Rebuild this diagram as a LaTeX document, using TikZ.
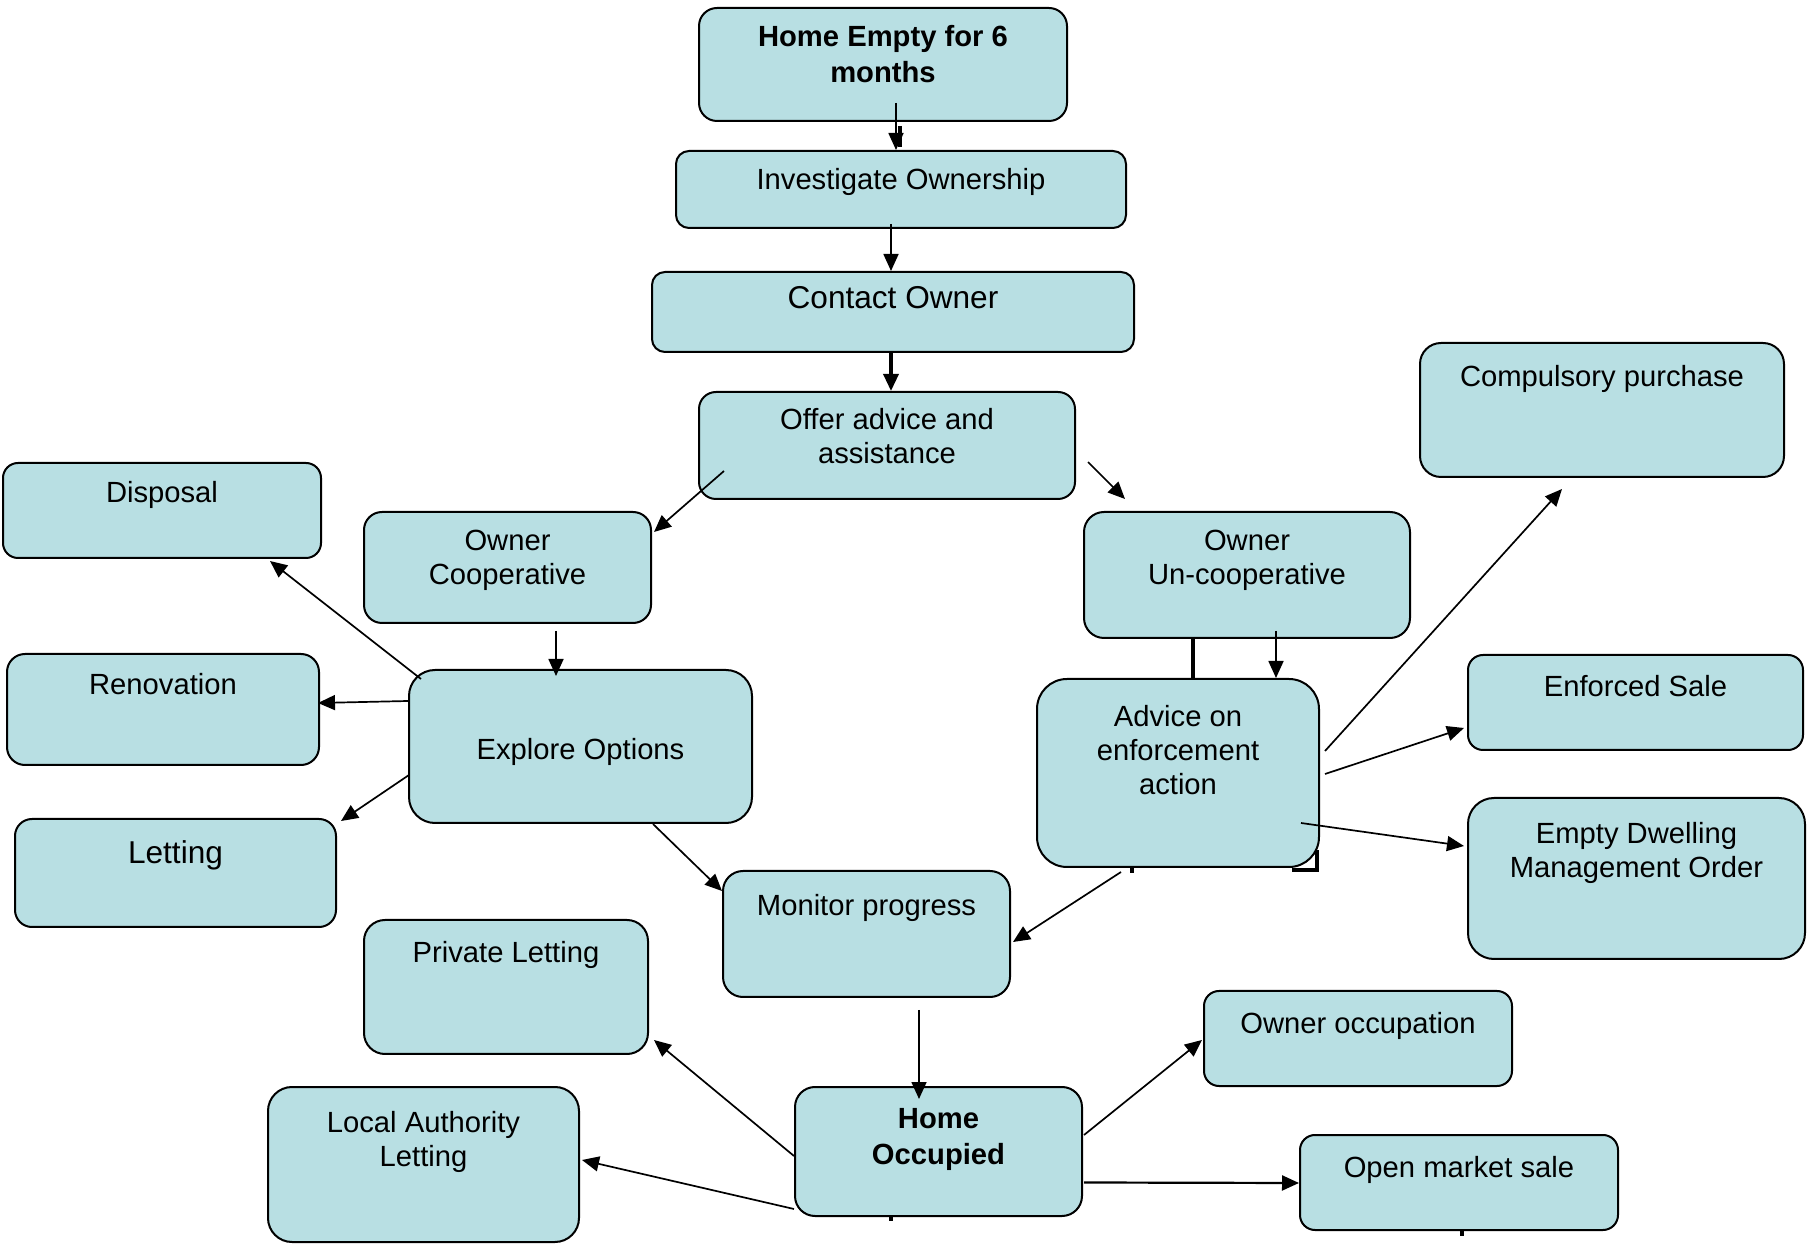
\documentclass[tikz,border=0pt]{standalone}
\usepackage{fontspec}
\setmainfont{Liberation Sans}
\usepackage{tikz}
\usetikzlibrary{arrows.meta,calc,fit,backgrounds}

\definecolor{boxblue}{RGB}{184,223,227}
\newcommand{\boxfont}{\fontsize{14.6}{17}\selectfont}
\newcommand{\bigboxfont}{\fontsize{15.8}{18}\selectfont}
\newcommand{\boldboxfont}{\fontsize{14.6}{18}\selectfont\bfseries}

\tikzset{
	box/.style={draw, fill=boxblue, line width=1pt, rounded corners=#1, inner sep=0pt},
	box/.default=9pt,
	txt/.style={anchor=north, align=center, inner sep=0pt, yshift=-#1, font=\boxfont},
	txt/.default=9pt,
	link/.style={-{Triangle[length=8.5pt,width=7.5pt]}, line width=0.85pt},
}

\begin{document}
\begin{tikzpicture}[x=0.5pt, y=-0.5pt]
	\useasboundingbox (0,0) rectangle (1812,1245);
	% main column
	\node[box, fit={(699,8) (1067,121)}, label={[txt=8.75pt, font=\boldboxfont]north:{Home Empty for 6\\months}}] (empty) {};
	\node[box=6.5pt, fit={(676,151) (1126,228)}, label={[txt=8.75pt]north:Investigate Ownership}] (investigate) {};
	\node[box=6.5pt, fit={(652,272) (1134,352)}, label={[txt=7.75pt, font=\bigboxfont]north:Contact Owner}] (contact) {};
	\node[box=8.5pt, fit={(699,392) (1075,499)}, label={[txt=8.25pt]north:{Offer advice and\\assistance}}] (offer) {};
	% cooperative side
	\node[box=9pt, fit={(364,512) (651,623)}, label={[txt=9.25pt]north:{Owner\\Cooperative}}] (coop) {};
	\node[box=13pt, fit={(409,670) (752,823)}, label={[txt=2.5pt, anchor=center]center:Explore Options}] (explore) {};
	\node[box=7.5pt, fit={(3,463) (321,558)}, label={[txt=9.25pt]north:Disposal}] (disposal) {};
	\node[box=9pt, fit={(7,654) (319,765)}, label={[txt=9.75pt]north:Renovation}] (renovation) {};
	\node[box=8.5pt, fit={(15,819) (336,927)}, label={[txt=11.25pt, font=\bigboxfont]north:Letting}] (letting) {};
	% uncooperative side
	\node[box=10pt, fit={(1084,512) (1410,638)}, label={[txt=9.25pt]north:{Owner\\Un-cooperative}}] (uncoop) {};
	\node[box=15pt, fit={(1037,679) (1319,867)}, label={[txt=13.25pt]north:{Advice on\\enforcement\\action}}] (advice) {};
	\node[box=10.5pt, fit={(1420,343) (1784,477)}, label={[txt=11.25pt]north:Compulsory purchase}] (purchase) {};
	\node[box=7.5pt, fit={(1468,655) (1803,750)}, label={[txt=10.25pt]north:Enforced Sale}] (enforced) {};
	\node[box=13pt, fit={(1468,798) (1805,959)}, label={[txt=12.25pt]north:{Empty Dwelling\\Management Order}}] (edmo) {};
	% outcome
	\node[box=10pt, fit={(723,871) (1010,997)}, label={[txt=11.75pt]north:Monitor progress}] (monitor) {};
	\node[box=10pt, fit={(795,1087) (1082,1216)}, label={[txt=11.25pt, font=\boldboxfont]north:{Home\\Occupied}}] (occupied) {};
	\node[box=10.5pt, fit={(364,920) (648,1054)}, label={[txt=10.75pt]north:Private Letting}] (private) {};
	\node[box=12pt, fit={(268,1087) (579,1242)}, label={[txt=12.25pt]north:{Local Authority\\Letting}}] (lalet) {};
	\node[box=7.5pt, fit={(1204,991) (1512,1086)}, label={[txt=10.75pt]north:Owner occupation}] (ownocc) {};
	\node[box=7.5pt, fit={(1300,1135) (1618,1230)}, label={[txt=10.75pt]north:Open market sale}] (market) {};

	\path[link]
	($(empty.south)+(13,-19)$) edge ($(investigate.north)+(-5,0)$)
	($(investigate.south)+(-10,-5)$) edge ($(contact.north)+(-2,0)$)
	($(offer.south west)+(26,-29)$) edge ($(coop.north east)+(2,21)$)
	($(offer.east)+(12,16.5)$) edge ($(uncoop.north west)+(42,-12)$)
	($(coop.south)+(48.5,7)$) edge ($(explore.north)+(-24.5,7)$)
	($(explore.north west)+(13,10)$) edge ($(disposal.south east)+(-52,2)$)
	($(explore.west)+(0,-45.5)$) edge ($(renovation.east)+(-2,-6.5)$)
	($(explore.west)+(1,28.5)$) edge ($(letting.north east)+(4,3)$)
	($(explore.south)+(72.5,0)$) edge ($(monitor.north west)+(0,21)$)
	($(uncoop.south)+(29,-8)$) edge ($(advice.north)+(98,0)$)
	($(advice.east)+(5,-22)$) edge ($(purchase.south)+(-40,11)$)
	($(advice.east)+(5,1)$) edge ($(enforced.west)+(-3,25.5)$)
	($(advice.east)+(-19,50)$) edge ($(edmo.west)+(-3,-32.5)$)
	($(advice.south)+(-57,4)$) edge ($(monitor.east)+(2,8)$)
	($(monitor.south)+(52.5,12)$) edge ($(occupied.north)+(-19.5,13)$)
	($(occupied.west)+(0,4.5)$) edge ($(private.east)+(5,53)$)
	($(occupied.south west)+(0,-8)$) edge ($(lalet.east)+(2,-4.5)$)
	($(occupied.east)+(1,-16.5)$) edge ($(ownocc.west)+(-1,1.5)$)
	;
	% heavier ones
	\path[link, line width=1.7pt] ($(contact.south)+(-2,0)$) edge ($(offer.north)+(4,0)$);
	\path[link, line width=1.1pt] ($(occupied.east)+(1,31)$) edge ($(market.west)+(0,0.5)$);
	\draw[line width=1.7pt] ($(empty.south)+(17,4)$) -- ($(investigate.north)+(-1,-3)$);
	\draw[line width=2.4pt] ($(uncoop.south)+(-54,0)$) -- ($(advice.north)+(15,0)$);
	% stubs behind the boxes
	\begin{scope}[on background layer]
		\draw[line width=1.7pt] ($(advice.south east)+(-28,2)$) -| ($(advice.south east)+(-3,-18)$);
		\draw[line width=1.7pt] ($(advice.south)+(-46,-4)$) -- ++(0,9);
		\draw[line width=1.7pt] ($(occupied.south)+(-47.5,-4)$) -- ++(0,8);
		\draw[line width=1.7pt] ($(market.south)+(3,-4)$) -- ++(0,9);
	\end{scope}
\end{tikzpicture}
\end{document}
